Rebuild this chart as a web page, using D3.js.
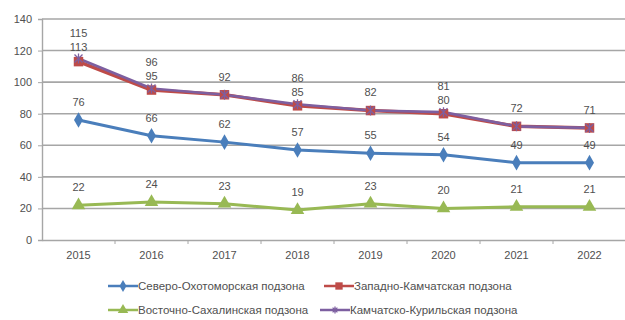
<!DOCTYPE html>
<html>
<head>
<meta charset="utf-8">
<script src="https://cdn.jsdelivr.net/npm/d3@7"></script>
<style>
  html, body { margin: 0; padding: 0; background: #fff; }
  svg { display: block; font-family: "Liberation Sans", Arial, sans-serif; }
</style>
</head>
<body>
<svg id="chart" width="625" height="320"></svg>
<script>
// Years and values by subzone
const years = ["2015", "2016", "2017", "2018", "2019", "2020", "2021", "2022"];
const severoOkhotomorskaya = [76, 66, 62, 57, 55, 54, 49, 49];
const zapadnoKamchatskaya = [113, 95, 92, 85, 82, 80, 72, 71];
const vostochnoSakhalinskaya = [22, 24, 23, 19, 23, 20, 21, 21];
const kamchatskoKurilskaya = [115, 96, 92, 86, 82, 81, 72, 71];
const yTicks = [0, 20, 40, 60, 80, 100, 120, 140];

const series = [
  { name: "Северо-Охотоморская подзона", values: severoOkhotomorskaya, color: "#4a7ebb", marker: "diamond" },
  { name: "Западно-Камчатская подзона", values: zapadnoKamchatskaya, color: "#be4b48", marker: "square" },
  { name: "Восточно-Сахалинская подзона", values: vostochnoSakhalinskaya, color: "#98b954", marker: "triangle" },
  { name: "Камчатско-Курильская подзона", values: kamchatskoKurilskaya, color: "#7d5fa0", marker: "cross" }
];

const svg = d3.select("#chart");
const margin = { left: 42 };
const width = 625;
const textColor = "#505050";

const x = d3.scaleBand().domain(years).range([margin.left, 626]);
const y = d3.scaleLinear().domain([0, 140]).range([240, 19]);
const cx = d => x(d) + x.bandwidth() / 2;

// Horizontal gridlines
svg.append("g")
  .selectAll("line")
  .data(yTicks.filter(t => t > 0))
  .join("line")
  .attr("x1", margin.left).attr("x2", width)
  .attr("y1", d => y(d)).attr("y2", d => y(d))
  .attr("stroke", "#a6a6a6").attr("stroke-width", 1.6);

// Y axis
const yAxis = svg.append("g")
  .attr("transform", `translate(${margin.left},0)`)
  .call(d3.axisLeft(y).tickValues(yTicks).tickSize(4).tickPadding(6));
yAxis.select(".domain").attr("stroke", "#a6a6a6").attr("stroke-width", 1.4);
yAxis.selectAll(".tick line").attr("stroke", "#a6a6a6");
yAxis.selectAll("text").attr("fill", textColor).attr("font-size", 11);

// X axis with ticks between categories
const xAxis = svg.append("g")
  .attr("transform", `translate(0,${y(0)})`)
  .call(d3.axisBottom(x).tickSize(0).tickPadding(11));
xAxis.select(".domain").attr("stroke", "#a6a6a6").attr("stroke-width", 1.6);
xAxis.selectAll("text").attr("fill", textColor).attr("font-size", 11);
xAxis.selectAll(".sep")
  .data(years.slice(1))
  .join("line")
  .attr("class", "sep")
  .attr("x1", d => x(d)).attr("x2", d => x(d))
  .attr("y1", 0).attr("y2", 4)
  .attr("stroke", "#a6a6a6");

// Marker shapes
function drawMarker(g, type, color, size) {
  if (type === "diamond") {
    g.append("path").attr("d", d3.symbol(d3.symbolDiamond, size * 7)())
      .attr("fill", color);
  } else if (type === "square") {
    g.append("path").attr("d", d3.symbol(d3.symbolSquare, size * 9)())
      .attr("fill", color);
  } else if (type === "triangle") {
    g.append("path").attr("d", d3.symbol(d3.symbolTriangle, size * 8)())
      .attr("fill", color);
  } else if (type === "cross") {
    const r = size * 0.4;
    g.append("path")
      .attr("d", `M${-r},${-r}L${r},${r}M${-r},${r}L${r},${-r}M0,${-r - 1}L0,${r + 1}`)
      .attr("stroke", color).attr("stroke-width", 1.3).attr("fill", "none");
  }
}

const line = d3.line().x((d, i) => cx(years[i])).y(d => y(d));
const lineWidth = [3, 3.5, 3, 2.6];

// Lines
series.forEach((s, k) => {
  svg.append("path")
    .datum(s.values)
    .attr("d", line)
    .attr("fill", "none")
    .attr("stroke", s.color)
    .attr("stroke-width", lineWidth[k])
    .attr("stroke-linejoin", "round");
});

// Markers
series.forEach(s => {
  s.values.forEach((v, i) => {
    const g = svg.append("g").attr("transform", `translate(${cx(years[i])},${y(v)})`);
    drawMarker(g, s.marker, s.color, 10);
  });
});

// Data labels; where the two Kamchatka series differ, their labels are stacked
const labelG = svg.append("g")
  .attr("font-size", 11).attr("fill", textColor).attr("text-anchor", "middle");

function addLabel(px, py, text) {
  labelG.append("text").attr("x", px).attr("y", py).attr("dy", "0.35em").text(text);
}

[severoOkhotomorskaya, vostochnoSakhalinskaya].forEach(vals => {
  vals.forEach((v, i) => addLabel(cx(years[i]), y(v) - 18, v));
});

years.forEach((yr, i) => {
  const a = zapadnoKamchatskaya[i], b = kamchatskoKurilskaya[i];
  if (a === b) {
    addLabel(cx(yr), y(a) - 18, a);
  } else {
    const lo = Math.min(a, b), hi = Math.max(a, b);
    const base = y(lo) - 14;
    addLabel(cx(yr), base, lo);
    addLabel(cx(yr), base - 14, hi);
  }
});

// Legend, two rows of two entries
const legendPos = [
  { x: 108, y: 286 }, { x: 324, y: 286 },
  { x: 108, y: 310 }, { x: 320, y: 310 }
];
series.forEach((s, k) => {
  const p = legendPos[k];
  const g = svg.append("g").attr("transform", `translate(${p.x},${p.y})`);
  g.append("line").attr("x1", 0).attr("x2", 30).attr("y1", 0).attr("y2", 0)
    .attr("stroke", s.color).attr("stroke-width", 2.5);
  const m = g.append("g").attr("transform", "translate(15,0)");
  drawMarker(m, s.marker, s.color, 6);
  g.append("text").attr("x", 30).attr("y", 0).attr("dy", "0.35em")
    .attr("font-size", 11.5).attr("fill", textColor).text(s.name);
});
</script>
</body>
</html>
